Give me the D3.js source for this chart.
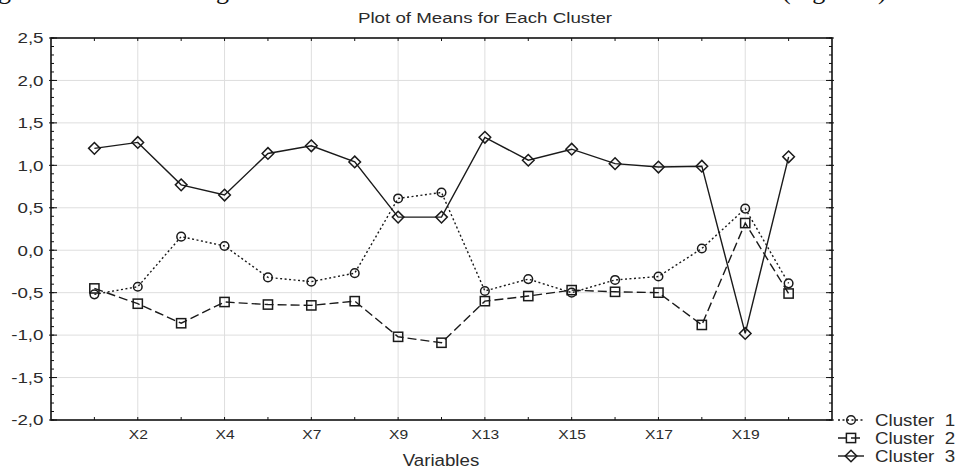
<!DOCTYPE html>
<html>
<head>
<meta charset="utf-8">
<script src="https://cdn.jsdelivr.net/npm/d3@7"></script>
<style>
  body { margin: 0; background: #fff; }
  svg { display: block; font-family: "Liberation Sans", Arial, sans-serif; }
  .grid line { stroke: #dedede; stroke-width: 1; }
  .axis path, .axis line { stroke: #111; }
  .axis text { fill: #2b2b2b; }
</style>
</head>
<body>
<div id="chart"></div>
<script>
// values, one per variable position (17 of them)
const positions = d3.range(1, 18);
const cluster1 = [-0.52, -0.43, 0.16, 0.05, -0.32, -0.37, -0.27, 0.61, 0.68, -0.48, -0.34, -0.50, -0.35, -0.31, 0.02, 0.49, -0.39];
const cluster2 = [-0.45, -0.63, -0.86, -0.61, -0.64, -0.65, -0.60, -1.02, -1.09, -0.60, -0.54, -0.47, -0.49, -0.50, -0.88, 0.32, -0.51];
const cluster3 = [1.20, 1.27, 0.77, 0.65, 1.14, 1.23, 1.04, 0.39, 0.39, 1.33, 1.06, 1.19, 1.02, 0.98, 0.99, -0.98, 1.10];

const tickPositions = [2, 4, 6, 8, 10, 12, 14, 16];
const tickLabels = ["X2", "X4", "X7", "X9", "X13", "X15", "X17", "X19"];
const seriesNames = ["Cluster  1", "Cluster  2", "Cluster  3"];

const width = 960;
const height = 470;
const plot = { left: 51, right: 832, top: 38, bottom: 420 };

const svg = d3.select("#chart").append("svg")
  .attr("width", width)
  .attr("height", height);

const x = d3.scaleLinear().domain([0, 18]).range([plot.left, plot.right]);
const y = d3.scaleLinear().domain([-2, 2.5]).range([plot.bottom, plot.top]);

// bottom edge of the page text line above the figure (cut off in the scan)
svg.append("g")
  .style("font-family", "'Liberation Serif', serif")
  .style("font-size", "26px")
  .attr("fill", "#111")
  .selectAll("text")
  .data([{ t: "g", x: -2 }, { t: "g", x: 216 }, { t: "(Figure 3)", x: 782 }])
  .join("text")
  .attr("x", d => d.x)
  .attr("y", -1)
  .text(d => d.t);

// grid
const grid = svg.append("g").attr("class", "grid");
grid.selectAll("line.h")
  .data(d3.range(-1.5, 2.5, 0.5))
  .join("line")
  .attr("class", "h")
  .attr("x1", plot.left).attr("x2", plot.right)
  .attr("y1", d => y(d)).attr("y2", d => y(d));
grid.selectAll("line.v")
  .data(tickPositions)
  .join("line")
  .attr("class", "v")
  .attr("x1", d => x(d)).attr("x2", d => x(d))
  .attr("y1", plot.top).attr("y2", plot.bottom);

// stretched text like the scanned original
const stretch = 1.25;

// left axis: major + minor ticks inside
const yMajor = d3.range(-2, 2.51, 0.5);
const yMinor = d3.range(-2, 2.501, 0.1);

const gl = svg.append("g").attr("class", "axis")
  .attr("transform", `translate(${plot.left},0)`)
  .call(d3.axisLeft(y).tickValues(yMajor).tickSize(0).tickPadding(0)
    .tickFormat(d => d3.format(".1f")(d).replace(".", ",").replace("\u2212", "-")));
gl.select(".domain").remove();
gl.selectAll("text")
  .attr("x", -6)
  .attr("transform", `scale(${stretch},1)`)
  .style("font-size", "15px");

const ticks = svg.append("g").attr("stroke", "#111").attr("stroke-width", 1);
ticks.selectAll("line.ym")
  .data(yMinor)
  .join("line")
  .attr("x1", plot.left).attr("x2", plot.left + 3)
  .attr("y1", d => y(d)).attr("y2", d => y(d));
ticks.selectAll("line.yM")
  .data(yMajor)
  .join("line")
  .attr("x1", plot.left - 2).attr("x2", plot.left + 6)
  .attr("y1", d => y(d)).attr("y2", d => y(d));
ticks.selectAll("line.rm")
  .data(yMinor)
  .join("line")
  .attr("x1", plot.right).attr("x2", plot.right - 3)
  .attr("y1", d => y(d)).attr("y2", d => y(d));
ticks.selectAll("line.rM")
  .data(yMajor)
  .join("line")
  .attr("x1", plot.right + 2).attr("x2", plot.right - 6)
  .attr("y1", d => y(d)).attr("y2", d => y(d));
ticks.selectAll("line.bt")
  .data(positions)
  .join("line")
  .attr("x1", d => x(d)).attr("x2", d => x(d))
  .attr("y1", plot.bottom).attr("y2", plot.bottom - 3);
ticks.selectAll("line.tt")
  .data(positions)
  .join("line")
  .attr("x1", d => x(d)).attr("x2", d => x(d))
  .attr("y1", plot.top).attr("y2", plot.top + 3);

// bottom axis labels
const gb = svg.append("g").attr("class", "axis")
  .attr("transform", `translate(0,${plot.bottom})`)
  .call(d3.axisBottom(x).tickValues(tickPositions).tickSize(0).tickPadding(0)
    .tickFormat((d, i) => tickLabels[i]));
gb.select(".domain").remove();
gb.selectAll("text")
  .attr("y", 0)
  .attr("dy", 0)
  .attr("transform", `translate(0,19) scale(${stretch},1)`)
  .style("font-size", "12.5px");

// frame
svg.append("rect")
  .attr("x", plot.left).attr("y", plot.top)
  .attr("width", plot.right - plot.left)
  .attr("height", plot.bottom - plot.top)
  .attr("fill", "none")
  .attr("stroke", "#111")
  .attr("stroke-width", 1.6);

// series
const series = [
  { name: seriesNames[0], values: cluster1, dash: "2,2.5", marker: "circle" },
  { name: seriesNames[1], values: cluster2, dash: "9,4", marker: "square" },
  { name: seriesNames[2], values: cluster3, dash: null, marker: "diamond" }
];

function drawMarker(sel, type) {
  if (type === "circle") {
    sel.append("circle").attr("r", 4.3);
  } else if (type === "square") {
    sel.append("rect").attr("x", -4.6).attr("y", -4.6).attr("width", 9.2).attr("height", 9.2);
  } else {
    sel.append("path").attr("d", "M0,-5.8L5.8,0L0,5.8L-5.8,0Z");
  }
}

const line = d3.line().x((d, i) => x(positions[i])).y(d => y(d));

series.forEach(s => {
  svg.append("path")
    .datum(s.values)
    .attr("fill", "none")
    .attr("stroke", "#1a1a1a")
    .attr("stroke-width", 1.4)
    .attr("stroke-dasharray", s.dash)
    .attr("d", line);

  svg.append("g")
    .attr("fill", "none")
    .attr("stroke", "#1a1a1a")
    .attr("stroke-width", 1.5)
    .selectAll("g")
    .data(s.values)
    .join("g")
    .attr("transform", (d, i) => `translate(${x(positions[i])},${y(d)})`)
    .each(function () { drawMarker(d3.select(this), s.marker); });
});

// title and axis title
svg.append("text")
  .attr("transform", `translate(485,23) scale(${stretch},1)`)
  .attr("text-anchor", "middle")
  .attr("fill", "#2b2b2b")
  .style("font-size", "15px")
  .text("Plot of Means for Each Cluster");

svg.append("text")
  .attr("transform", `translate(441,466) scale(1.1,1)`)
  .attr("text-anchor", "middle")
  .attr("fill", "#2b2b2b")
  .style("font-size", "17px")
  .text("Variables");

// legend
const legend = svg.append("g")
  .selectAll("g")
  .data(series)
  .join("g")
  .attr("transform", (d, i) => `translate(838,${420 + i * 18})`);

legend.append("line")
  .attr("x1", 0).attr("x2", 26)
  .attr("stroke", "#1a1a1a")
  .attr("stroke-width", 1.4)
  .attr("stroke-dasharray", d => d.dash);

legend.append("g")
  .attr("transform", "translate(13,0)")
  .attr("fill", "none")
  .attr("stroke", "#1a1a1a")
  .attr("stroke-width", 1.5)
  .each(function (d) { drawMarker(d3.select(this), d.marker); });

legend.append("text")
  .attr("transform", `translate(37,5.5) scale(1.17,1)`)
  .attr("fill", "#2b2b2b")
  .style("font-size", "16px")
  .style("white-space", "pre")
  .text(d => d.name);
</script>
</body>
</html>
